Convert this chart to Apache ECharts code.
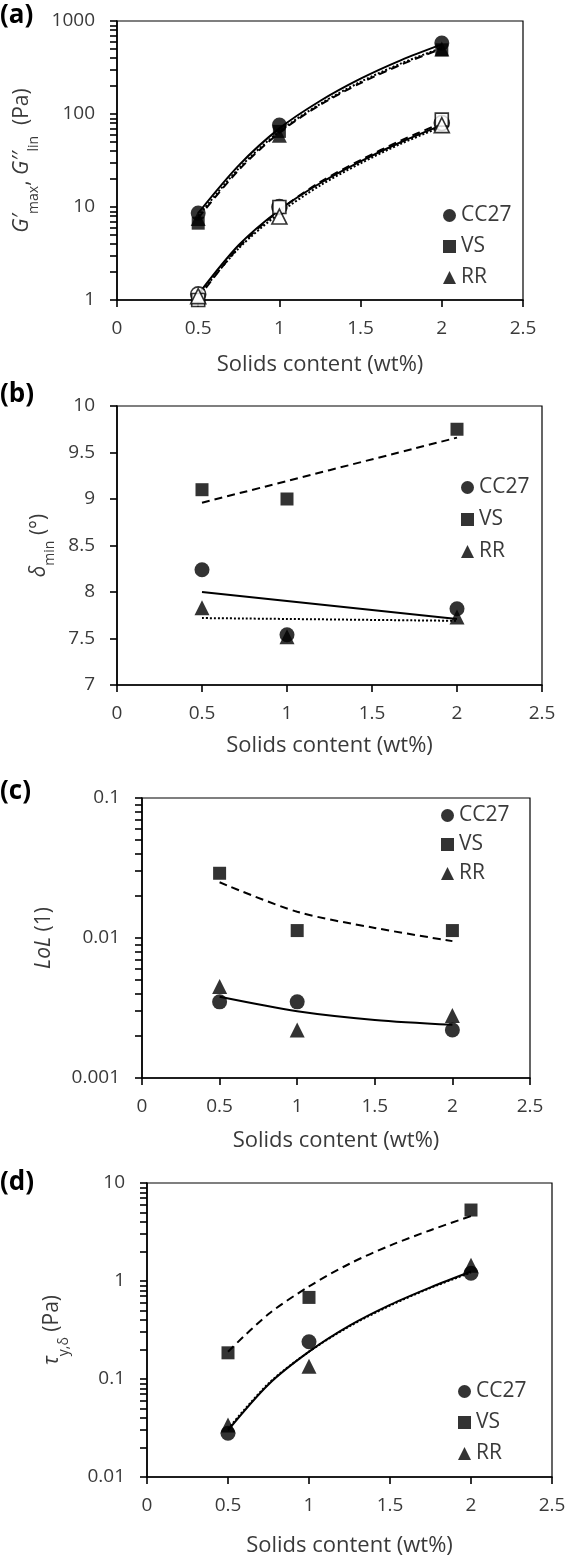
<!DOCTYPE html>
<html>
<head>
<meta charset="utf-8">
<script src="https://cdn.jsdelivr.net/npm/echarts@6/dist/echarts.min.js"></script>
<style>
html, body { margin: 0; padding: 0; background: #fff; }
#main { width: 569px; height: 1563px; }
</style>
</head>
<body>
<div id="main"></div>
<script>
// measured x positions (wt%)
var solids = [0.5, 1, 2];
var fitSolids = [0.5, 0.75, 1, 1.25, 1.5, 1.75, 2];
var xTicks = [0, 0.5, 1, 1.5, 2, 2.5];

// (a) G'max (filled) and G''lin (open), Pa
var aGmaxCC27 = [8.6, 76, 580];
var aGmaxVS = [6.7, 65, 490];
var aGmaxRR = [7.5, 59, 500];
var aGlinCC27 = [1.15, 10, 80];
var aGlinVS = [1.0, 10, 87];
var aGlinRR = [1.1, 7.9, 76];
// trend curves
var aFitGmaxCC27 = [8.6, 28, 70, 138, 240, 380, 560];
var aFitGmaxVS = [7.6, 25, 63, 125, 215, 340, 505];
var aFitGmaxRR = [8.0, 26, 65, 128, 222, 350, 515];
var aFitGlinCC27 = [1.15, 3.9, 9.3, 18, 31, 50, 76];
var aFitGlinVS = [1.05, 3.7, 9.2, 18.5, 32, 52, 80];
var aFitGlinRR = [1.1, 3.6, 8.6, 17, 29.5, 48, 73];
var aTicks = [1, 10, 100, 1000];

// (b) delta min, degrees
var bCC27 = [8.24, 7.54, 7.82];
var bVS = [9.1, 9.0, 9.75];
var bRR = [7.83, 7.52, 7.73];
var bFitCC27 = [8.0, 7.71];
var bFitVS = [8.96, 9.66];
var bFitRR = [7.72, 7.69];
var bFitX = [0.5, 2];

// (c) LoL
var cCC27 = [0.0035, 0.0035, 0.0022];
var cVS = [0.029, 0.0113, 0.0113];
var cRR = [0.0045, 0.0022, 0.0028];
var cFitX = [0.5, 1, 1.5, 2];
var cFitCC27 = [0.0038, 0.0030, 0.0026, 0.0024];
var cFitVS = [0.025, 0.0154, 0.0118, 0.0095];
var cTicks = [0.001, 0.01, 0.1];

// (d) tau y,delta, Pa
var dCC27 = [0.028, 0.24, 1.2];
var dVS = [0.185, 0.68, 5.3];
var dRR = [0.034, 0.135, 1.45];
var dFitCC27 = [0.03, 0.088, 0.19, 0.35, 0.57, 0.86, 1.25];
var dFitVS = [0.19, 0.46, 0.88, 1.5, 2.3, 3.3, 4.6];
var dFitRR = [0.031, 0.09, 0.19, 0.345, 0.56, 0.85, 1.22];
var dTicks = [0.01, 0.1, 1, 10];

var txt = '#3a3a3a';
var font = 'Open Sans';

function pts(x, y) {
    return x.map(function (v, i) { return [v, y[i]]; });
}
function logMinor(from, to) {
    var out = [];
    for (var d = from; d < to * 0.999; d *= 10) {
        for (var k = 1; k <= 9; k++) out.push(+(d * k).toPrecision(3));
    }
    out.push(to);
    return out;
}

var chart = echarts.init(document.getElementById('main'));

var grids = [
    {left: 117, top: 21, width: 406, height: 279},
    {left: 117, top: 406, width: 425, height: 279},
    {left: 142, top: 798, width: 388, height: 280},
    {left: 147, top: 1183, width: 405, height: 294}
].map(function (g) {
    g.show = true; g.borderColor = '#000'; g.borderWidth = 1.2;
    return g;
});

var xNameGaps = [54, 50, 52, 58];
var xAxes = [0, 1, 2, 3].map(function (i) {
    return {
        gridIndex: i, type: 'value', min: 0, max: 2.5, interval: 0.5,
        name: 'Solids content (wt%)', nameLocation: 'middle', nameGap: xNameGaps[i],
        nameTextStyle: {color: txt, fontSize: 22, fontFamily: font},
        axisLine: {lineStyle: {color: '#000', width: 1.6}},
        axisTick: {show: true, inside: false, length: 7, lineStyle: {color: '#000', width: 1.6}},
        axisLabel: {color: txt, fontSize: 19, fontFamily: font, margin: 19,
            customValues: xTicks},
        splitLine: {show: false}
    };
});

var nameRich = {
    n: {fontSize: 21, fontFamily: font, color: txt, lineHeight: 26, verticalAlign: 'top'},
    i: {fontSize: 21, fontFamily: font, color: txt, fontStyle: 'italic', lineHeight: 26, verticalAlign: 'top'},
    s: {fontSize: 14, fontFamily: font, color: txt, lineHeight: 15, padding: [15, 0, 0, 0], verticalAlign: 'top'}
};

function yAxis(i, type, min, max, name, gap, ticks) {
    var ax = {
        gridIndex: i, type: type, min: min, max: max,
        name: name, nameLocation: 'middle', nameGap: gap, nameRotate: 90,
        nameTextStyle: {rich: nameRich},
        axisLine: {show: true, lineStyle: {color: '#000', width: 1.6}},
        axisTick: {show: true, inside: false, length: 7, lineStyle: {color: '#000', width: 1.6}},
        axisLabel: {color: txt, fontSize: 19, fontFamily: font, margin: 22},
        splitLine: {show: false}
    };
    if (type === 'log') {
        ax.logBase = 10;
        ax.axisTick.customValues = logMinor(min, max);
        ax.axisLabel.customValues = ticks;
        ax.axisLabel.formatter = function (v) { return String(+v.toPrecision(3)); };
    } else {
        ax.interval = 0.5;
    }
    return ax;
}

var yAxes = [
    yAxis(0, 'log', 1, 1000, '{i|G′}{s|max}{n|, }{i|G′′}{s|lin}{n|  (Pa)}', 68, aTicks),
    yAxis(1, 'value', 7, 10, '{i|δ}{s|min}{n| (°)}', 56, null),
    yAxis(2, 'log', 0.001, 0.1, '{i|LoL}{n| (1)}', 82, cTicks),
    yAxis(3, 'log', 0.01, 10, '{i|τ}{s|y,δ}{n| (Pa)}', 79, dTicks)
];

var symbols = {CC27: ['circle', 15], VS: ['rect', 13], RR: ['triangle', 15]};

function scatter(i, name, x, y, hollow) {
    return {
        type: 'scatter', name: name, xAxisIndex: i, yAxisIndex: i,
        symbol: symbols[name][0], symbolSize: symbols[name][1], clip: false,
        itemStyle: hollow ? {color: '#fff', borderColor: '#000', borderWidth: 1.6} : {color: '#000'},
        data: pts(x, y), z: 3
    };
}
var dashes = {CC27: 'solid', VS: [8, 5], RR: [2, 2]};
function fit(i, name, x, y) {
    return {
        type: 'line', name: name + ' fit', xAxisIndex: i, yAxisIndex: i,
        showSymbol: false, smooth: 0.3, silent: true,
        lineStyle: {color: '#000', width: 2, type: dashes[name]},
        data: pts(x, y), z: 2
    };
}

var series = [
    scatter(0, 'CC27', solids, aGmaxCC27), scatter(0, 'VS', solids, aGmaxVS), scatter(0, 'RR', solids, aGmaxRR),
    scatter(0, 'CC27', solids, aGlinCC27, true), scatter(0, 'VS', solids, aGlinVS, true), scatter(0, 'RR', solids, aGlinRR, true),
    fit(0, 'CC27', fitSolids, aFitGmaxCC27), fit(0, 'VS', fitSolids, aFitGmaxVS), fit(0, 'RR', fitSolids, aFitGmaxRR),
    fit(0, 'CC27', fitSolids, aFitGlinCC27), fit(0, 'VS', fitSolids, aFitGlinVS), fit(0, 'RR', fitSolids, aFitGlinRR),

    scatter(1, 'CC27', solids, bCC27), scatter(1, 'VS', solids, bVS), scatter(1, 'RR', solids, bRR),
    fit(1, 'CC27', bFitX, bFitCC27), fit(1, 'VS', bFitX, bFitVS), fit(1, 'RR', bFitX, bFitRR),

    scatter(2, 'CC27', solids, cCC27), scatter(2, 'VS', solids, cVS), scatter(2, 'RR', solids, cRR),
    fit(2, 'CC27', cFitX, cFitCC27), fit(2, 'VS', cFitX, cFitVS),

    scatter(3, 'CC27', solids, dCC27), scatter(3, 'VS', solids, dVS), scatter(3, 'RR', solids, dRR),
    fit(3, 'CC27', fitSolids, dFitCC27), fit(3, 'VS', fitSolids, dFitVS), fit(3, 'RR', fitSolids, dFitRR)
];

var legendItems = [
    {name: 'CC27', icon: 'circle'},
    {name: 'VS', icon: 'rect'},
    {name: 'RR', icon: 'triangle'}
];
var legends = [[443, 205, 10], [461, 477, 11], [441, 805, 8], [458, 1381, 10]].map(function (p) {
    return {
        left: p[0], top: p[1], orient: 'vertical', itemGap: p[2],
        itemWidth: 13, itemHeight: 13, selectedMode: false, padding: 0,
        textStyle: {color: txt, fontSize: 21, fontFamily: font},
        data: legendItems
    };
});

var titles = [['(a)', 3], ['(b)', 382], ['(c)', 779], ['(d)', 1170]].map(function (t) {
    return {text: t[0], left: 0, top: t[1], padding: 0,
        textStyle: {color: '#000', fontSize: 26, fontWeight: 'bold', fontFamily: font}};
});

var option = {
    backgroundColor: '#fff',
    animation: false,
    title: titles,
    legend: legends,
    grid: grids,
    xAxis: xAxes,
    yAxis: yAxes,
    series: series
};
chart.setOption(option);
</script>
</body>
</html>
